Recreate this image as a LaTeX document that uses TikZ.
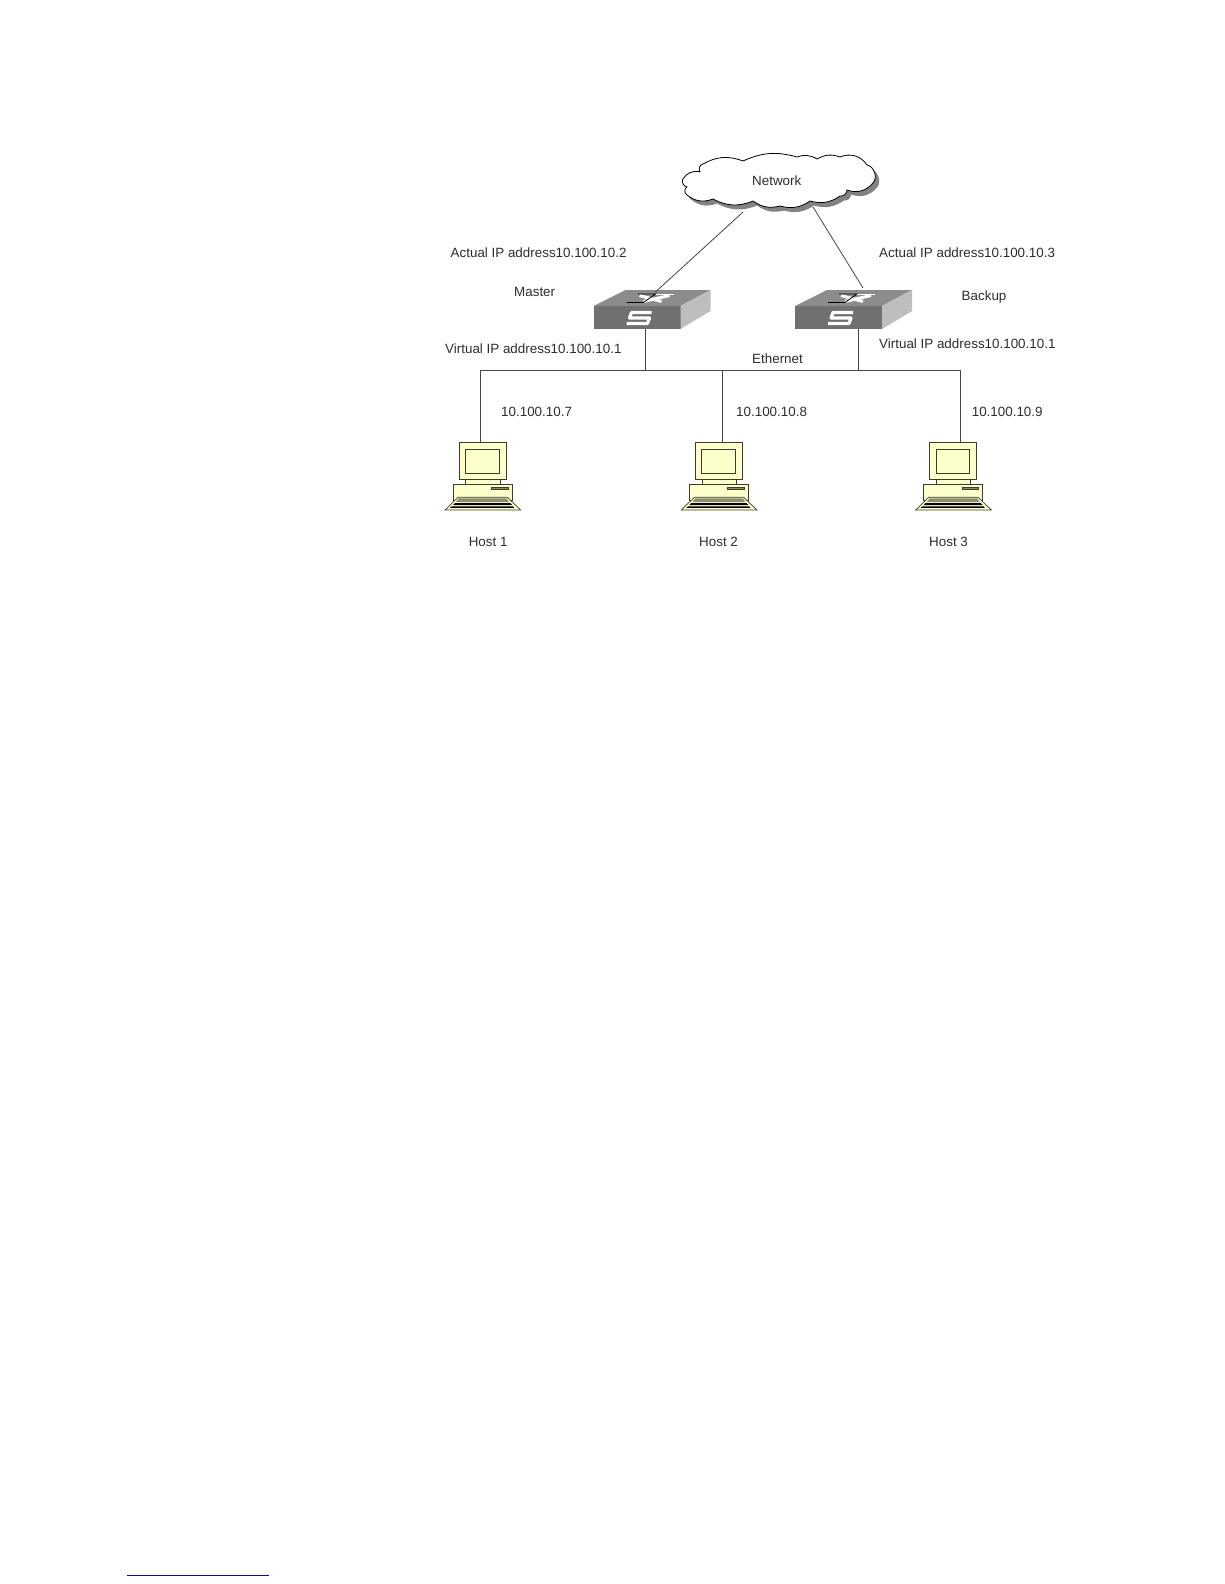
\documentclass[tikz,border=0pt]{standalone}
\usepackage{fontspec}
\setmainfont{Liberation Sans}
\usetikzlibrary{arrows.meta, positioning, calc}
\definecolor{labelgrey}{RGB}{45,45,45}
\definecolor{wiregrey}{RGB}{70,70,70}
\definecolor{switchfront}{RGB}{112,112,112}
\definecolor{switchtop}{RGB}{140,140,140}
\definecolor{switchside}{RGB}{190,190,190}
\definecolor{hostcream}{RGB}{255,255,204}
\definecolor{hostedge}{RGB}{60,60,40}
\definecolor{hostkeys}{RGB}{140,140,110}
\definecolor{cloudshadow}{RGB}{130,130,130}
\definecolor{rulenavy}{RGB}{10,10,150}
\tikzset{
    wire/.style={wiregrey, line width=0.8pt},
    bump/.style={bend left=#1},
    label/.style={font=\fontsize{13.4}{15}\selectfont, text=labelgrey, inner sep=0pt, anchor=west},
    switchicon/.pic={
        \fill[switchfront] (0,0) rectangle (87,23);
        \fill[switchtop] (0,0) -- (32,-16) -- (117,-16) -- (87,0) -- cycle;
        \fill[switchside] (87,0) -- (117,-16) -- (117,5) -- (87,23) -- cycle;
        \draw[white, line width=3pt] (46,-10.5) -- (68,-4.5);
        \draw[white, line width=3pt] (76,-10.5) -- (50,-4.5);
        \draw[black, line width=0.8pt] (33,-3.5) -- (50,-3.5) -- (62,-12) -- (44,-12);
        \draw[white, line width=0.8pt] (62,-12) -- (80,-12);
        \draw[white, line width=3.2pt, line join=round] (58,6.5) -- (38,6.5) -- (36,12) -- (56,12) -- (54,17.5) -- (33,17.5);
        \coordinate (-top) at (62,-14);
        \coordinate (-port) at (52,23);
    },
    hosticon/.pic={
        \draw[hostedge, fill=hostcream, line width=0.7pt] (-14.3,37.3) rectangle (20,42);
        \draw[hostedge, fill=hostcream, line width=0.7pt] (-21,0) rectangle (26,37.3);
        \draw[hostedge, fill=hostcream, line width=0.8pt] (-14.5,7) rectangle (19,31.3);
        \draw[hostedge, fill=hostcream, line width=0.7pt] (-27,42) rectangle (32,58);
        \draw[hostedge, fill=hostkeys, line width=0.4pt] (11,44.7) rectangle (27.7,47);
        \draw[hostedge, fill=hostcream, line width=0.7pt] (-22,55.3) -- (27.3,55.3) -- (40.7,68) -- (-35,68) -- cycle;
        \fill[hostkeys] (-21,56.3) -- (26.5,56.3) -- (29,60) -- (-24,60) -- cycle;
        \fill[black] (-25,61) -- (30,61) -- (32,63) -- (-27,63) -- cycle;
        \fill[black] (-28,64.3) -- (33,64.3) -- (34,65.8) -- (-30,65.8) -- cycle;
        \coordinate (-top) at (0,0);
    },
    cloudicon/.pic={
        \path[draw=black, fill=white, line width=0.8pt,
              preaction={draw=none, fill=cloudshadow, transform canvas={xshift=4pt, yshift=-4.5pt}}]
            (-94.3,-1.7) to[bump=35] (-77,-9.3) to[bump=60] (-74,-17)
            to[bump=25] (-34,-20) to[bump=20] (20,-24) to[bump=25] (40,-22)
            to[bump=25] (63,-24) to[bump=40] (90,-16) to[bump=60] (96,2)
            to[bump=35] (70,9) to[bump=50] (63,15) to[bump=25] (33,20)
            to[bump=25] (3,25) to[bump=25] (-24,20) to[bump=25] (-64,18)
            to[bump=30] (-90,14) to[bump=70] (-90,6) to[bump=50] cycle;
        \coordinate (-left) at (-34,31);
        \coordinate (-right) at (36,26);
    }
}
\begin{document}
\begin{tikzpicture}[x=1pt, y=-1pt]
    \useasboundingbox (0,0) rectangle (1224,1584);
    \pic (network) at (777,181) {cloudicon};
    \pic (master) at (593.5,306) {switchicon};
    \pic (backup) at (795,306) {switchicon};
    \foreach \n/\x in {1/480, 2/716.3, 3/950.7} {
        \pic (host\n) at (\x,442) {hosticon};
    }
    \coordinate (tap1) at (480,370);
    \coordinate (tap2) at (722.5,370);
    \coordinate (tap3) at (960.5,370);
    \coordinate (tapmaster) at (645.5,370);
    \coordinate (tapbackup) at (858.5,370);
    \draw[wire] (network-left) -- (master-top);
    \draw[wire] (network-right) -- ($(backup-top)+(6,-4)$);
    \draw[wire] (tap1) -- (tap3);
    \draw[wire] (tapmaster) -- (tapmaster |- master-port);
    \draw[wire] (tapbackup) -- (tapbackup |- backup-port);
    \foreach \n in {1,2,3} {
        \draw[wire] (tap\n) -- (tap\n |- host\n-top);
    }
    \node[label] (netlabel) at (752,181) {Network};
    \node[label] (actualmaster) at (450.5,253) {Actual IP address10.100.10.2};
    \node[label] (actualbackup) at (879,253) {Actual IP address10.100.10.3};
    \node[label] (masterlabel) at (514,292) {Master};
    \node[label] (backuplabel) at (961.5,297) {Backup};
    \node[label] (virtualmaster) at (445,349) {Virtual IP address10.100.10.1};
    \node[label] (virtualbackup) at (879,344) {Virtual IP address10.100.10.1};
    \node[label] (ethernet) at (752,359) {Ethernet};
    \node[label] (addr1) at (501,411.5) {10.100.10.7};
    \node[label] (addr2) at (736,411.5) {10.100.10.8};
    \node[label] (addr3) at (971.6,411.5) {10.100.10.9};
    \node[label] (hostlabel1) at (468.6,542) {Host 1};
    \node[label] (hostlabel2) at (699,542) {Host 2};
    \node[label] (hostlabel3) at (929,542) {Host 3};
    \draw[rulenavy, line width=1.2pt] (127,1575.3) -- (268.7,1575.3);
\end{tikzpicture}
\end{document}
